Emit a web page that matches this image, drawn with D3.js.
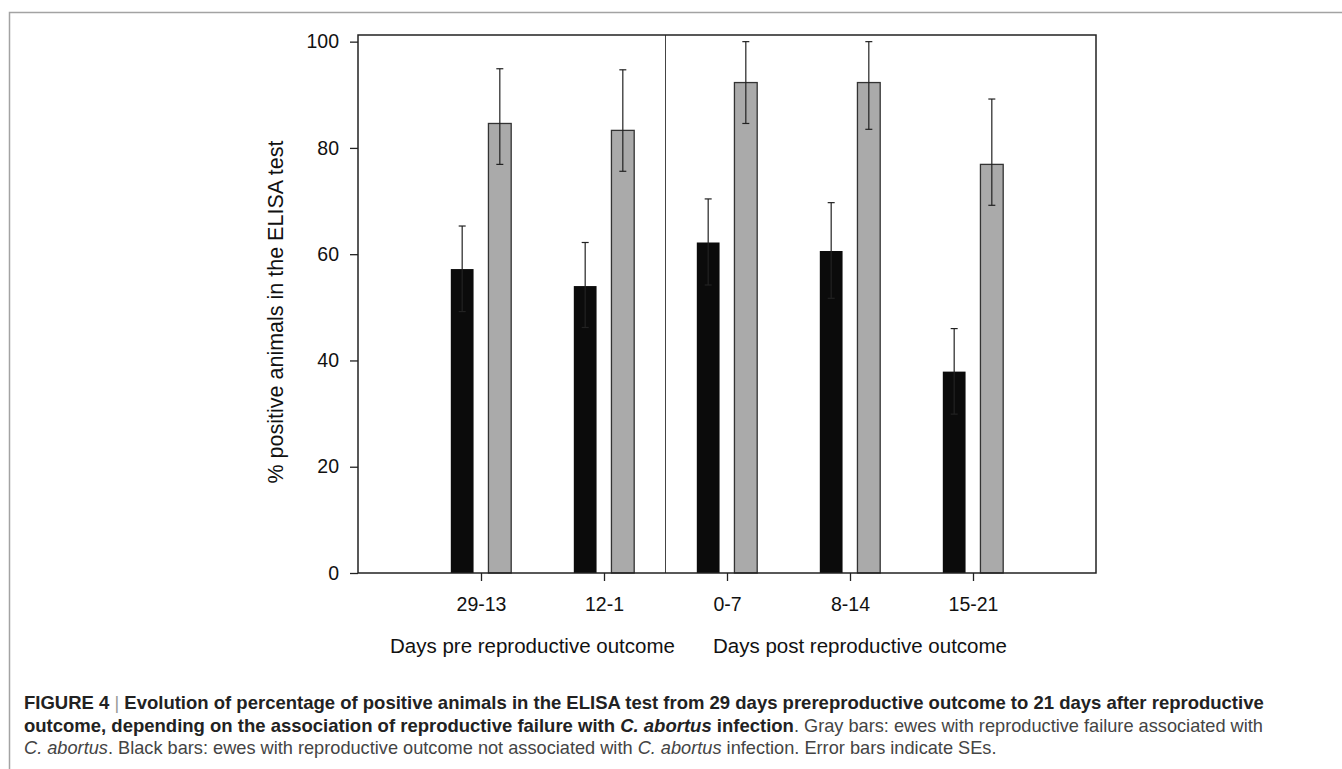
<!DOCTYPE html>
<html>
<head>
<meta charset="utf-8">
<script src="https://cdn.jsdelivr.net/npm/d3@7"></script>
<style>
  html, body { margin: 0; padding: 0; background: #fff; }
  svg { display: block; }
</style>
</head>
<body>
<svg id="chart" width="1342" height="769"></svg>
<script>
// data
const categories = ['29-13', '12-1', '0-7', '8-14', '15-21'];
const blackValues = [57.2, 54.0, 62.2, 60.6, 37.9];
const blackUpper = [65.3, 62.2, 70.4, 69.7, 46.0];
const blackLower = [49.2, 46.2, 54.2, 51.7, 29.9];
const grayValues = [84.6, 83.3, 92.3, 92.3, 76.9];
const grayUpper = [94.9, 94.7, 100, 100, 89.2];
const grayLower = [76.9, 75.6, 84.6, 83.5, 69.2];
const yTicks = [0, 20, 40, 60, 80, 100];
const groupLabels = ['Days pre reproductive outcome', 'Days post reproductive outcome'];

const svg = d3.select('#chart');
const font = '"Liberation Sans", Arial, Helvetica, sans-serif';

// outer page frame
svg.append('path')
    .attr('d', 'M9.5,769 L9.5,12.5 L1342,12.5')
    .attr('fill', 'none')
    .attr('stroke', '#a3a3a3')
    .attr('stroke-width', 1.5);

const plotLeft = 358, plotRight = 1096, plotTop = 35, plotBottom = 573;

const x = d3.scaleLinear().domain([0, categories.length + 1]).range([plotLeft, plotRight]);
const y = d3.scaleLinear().domain([0, 101.25]).range([plotBottom, plotTop]);

const barW = 0.185;
const offset = 0.153;

const bars = categories.map((c, i) => ({
    i: i + 1,
    black: blackValues[i], bUp: blackUpper[i], bLo: blackLower[i],
    gray: grayValues[i], gUp: grayUpper[i], gLo: grayLower[i]
}));

// axes
const yAxis = svg.append('g')
    .attr('transform', `translate(${plotLeft},0)`)
    .call(d3.axisLeft(y).tickValues(yTicks).tickSize(8).tickPadding(11));
yAxis.select('.domain').remove();
yAxis.selectAll('line').attr('stroke', '#222').attr('stroke-width', 1.3);
yAxis.selectAll('text').attr('font-family', font).attr('font-size', 19.5).attr('fill', '#111');

const xAxis = svg.append('g')
    .attr('transform', `translate(0,${plotBottom})`)
    .call(d3.axisBottom(x).tickValues(d3.range(1, categories.length + 1))
        .tickFormat(d => categories[d - 1]).tickSize(8).tickPadding(16));
xAxis.select('.domain').remove();
xAxis.selectAll('line').attr('stroke', '#222').attr('stroke-width', 1.3);
xAxis.selectAll('text').attr('font-family', font).attr('font-size', 19.5).attr('fill', '#111');

// bars
svg.selectAll('rect.black')
    .data(bars)
    .enter()
    .append('rect')
    .attr('class', 'black')
    .attr('x', d => x(d.i - offset - barW / 2))
    .attr('width', x(barW) - x(0))
    .attr('y', d => y(d.black))
    .attr('height', d => y(0) - y(d.black))
    .attr('fill', '#0b0b0b');

svg.selectAll('rect.gray')
    .data(bars)
    .enter()
    .append('rect')
    .attr('class', 'gray')
    .attr('x', d => x(d.i + offset - barW / 2))
    .attr('width', x(barW) - x(0))
    .attr('y', d => y(d.gray))
    .attr('height', d => y(0) - y(d.gray))
    .attr('fill', '#aaaaaa')
    .attr('stroke', '#333')
    .attr('stroke-width', 1.3);

// error bars
function errorBars(cls, getX, getUp, getLo) {
    const g = svg.selectAll('g.' + cls)
        .data(bars)
        .enter()
        .append('g')
        .attr('class', cls)
        .attr('stroke', '#222')
        .attr('stroke-width', 1.2);
    g.append('line')
        .attr('x1', d => x(getX(d))).attr('x2', d => x(getX(d)))
        .attr('y1', d => y(getUp(d))).attr('y2', d => y(getLo(d)));
    g.append('line')
        .attr('x1', d => x(getX(d)) - 3.5).attr('x2', d => x(getX(d)) + 3.5)
        .attr('y1', d => y(getUp(d))).attr('y2', d => y(getUp(d)));
    g.append('line')
        .attr('x1', d => x(getX(d)) - 3.5).attr('x2', d => x(getX(d)) + 3.5)
        .attr('y1', d => y(getLo(d))).attr('y2', d => y(getLo(d)));
}
errorBars('err-black', d => d.i - offset, d => d.bUp, d => d.bLo);
errorBars('err-gray', d => d.i + offset, d => d.gUp, d => d.gLo);

// divider between pre and post
svg.append('line')
    .attr('x1', x(2.5)).attr('x2', x(2.5))
    .attr('y1', plotTop).attr('y2', plotBottom)
    .attr('stroke', '#444')
    .attr('stroke-width', 1);

// plot box
svg.append('rect')
    .attr('x', plotLeft).attr('y', plotTop)
    .attr('width', plotRight - plotLeft).attr('height', plotBottom - plotTop)
    .attr('fill', 'none')
    .attr('stroke', '#222')
    .attr('stroke-width', 1.5);

// axis titles
svg.append('text')
    .attr('transform', 'translate(283,312) rotate(-90)')
    .attr('text-anchor', 'middle')
    .attr('font-family', font)
    .attr('font-size', 21.5)
    .attr('fill', '#111')
    .text('% positive animals in the ELISA test');

svg.selectAll('text.group')
    .data(groupLabels)
    .enter()
    .append('text')
    .attr('class', 'group')
    .attr('x', (d, i) => i === 0 ? 390 : 713)
    .attr('y', 653)
    .attr('font-family', font)
    .attr('font-size', 20.5)
    .attr('fill', '#111')
    .text(d => d);

// caption
const cap = svg.append('g')
    .attr('font-family', font)
    .attr('font-size', 18.2)
    .attr('fill', '#333');

const lines = [
    [
        { t: 'FIGURE 4 ', b: true },
        { t: '|', c: '#999' },
        { t: ' Evolution of percentage of positive animals in the ELISA test from 29 days prereproductive outcome to 21 days after reproductive', b: true }
    ],
    [
        { t: 'outcome, depending on the association of reproductive failure with ', b: true },
        { t: 'C. abortus', b: true, i: true },
        { t: ' infection', b: true },
        { t: '. Gray bars: ewes with reproductive failure associated with' }
    ],
    [
        { t: 'C. abortus', i: true },
        { t: '. Black bars: ewes with reproductive outcome not associated with ' },
        { t: 'C. abortus', i: true },
        { t: ' infection. Error bars indicate SEs.' }
    ]
];

lines.forEach((parts, li) => {
    const txt = cap.append('text')
        .attr('x', 24)
        .attr('y', 709 + li * 22.5)
        .attr('xml:space', 'preserve');
    parts.forEach(p => {
        txt.append('tspan')
            .attr('font-weight', p.b ? 'bold' : null)
            .attr('font-size', p.b ? 18.5 : null)
            .attr('font-style', p.i ? 'italic' : null)
            .attr('fill', p.c || (p.b ? '#222' : '#444'))
            .text(p.t);
    });
});
</script>
</body>
</html>
